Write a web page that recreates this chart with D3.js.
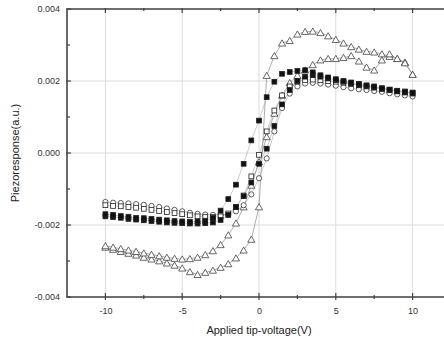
<!DOCTYPE html>
<html>
<head>
<meta charset="utf-8">
<script src="https://cdn.jsdelivr.net/npm/d3@7/dist/d3.min.js"></script>
<style>
  body { margin: 0; background: #fff; }
  svg { display: block; font-family: "Liberation Sans", Arial, sans-serif; }
</style>
</head>
<body>
<div id="chart"></div>
<script>
// applied tip voltage (V), shared by every branch
const volts = [-10, -9.5, -9, -8.5, -8, -7.5, -7, -6.5, -6, -5.5, -5, -4.5, -4, -3.5, -3, -2.5, -2, -1.5, -1, -0.5,
  0, 0.5, 1, 1.5, 2, 2.5, 3, 3.5, 4, 4.5, 5, 5.5, 6, 6.5, 7, 7.5, 8, 8.5, 9, 9.5, 10];

// filled squares, two sweep branches
const filledFwd = [-0.00176, -0.00178, -0.00180, -0.00183, -0.00185, -0.00187, -0.00189, -0.00191, -0.00193, -0.00194,
  -0.00195, -0.00196, -0.00196, -0.00195, -0.00193, -0.00186, -0.00172, -0.00150, -0.00120, -0.00082,
  -0.00030, 0.00012, 0.00075, 0.00135, 0.00175, 0.00200, 0.00212, 0.00216, 0.00212, 0.00207,
  0.00202, 0.00198, 0.00193, 0.00189, 0.00186, 0.00182, 0.00178, 0.00175, 0.00171, 0.00168, 0.00165];
const filledRev = [-0.00170, -0.00172, -0.00175, -0.00177, -0.00180, -0.00181, -0.00183, -0.00185, -0.00187, -0.00189,
  -0.00190, -0.00191, -0.00190, -0.00188, -0.00180, -0.00160, -0.00128, -0.00088, -0.00030, 0.00035,
  0.00090, 0.00155, 0.00198, 0.00220, 0.00225, 0.00228, 0.00230, 0.00224, 0.00216, 0.00210,
  0.00205, 0.00200, 0.00196, 0.00192, 0.00188, 0.00185, 0.00180, 0.00176, 0.00172, 0.00170, 0.00167];

// open squares
const openSq = [-0.00145, -0.00147, -0.00148, -0.00150, -0.00152, -0.00155, -0.00158, -0.00161, -0.00164, -0.00167,
  -0.00170, -0.00173, -0.00176, -0.00178, -0.00178, -0.00176, -0.00168, -0.00150, -0.00118, -0.00065,
  -0.00005, 0.00060, 0.00118, 0.00160, 0.00185, 0.00198, 0.00203, 0.00204, 0.00202, 0.00200,
  0.00198, 0.00195, 0.00192, 0.00188, 0.00185, 0.00182, 0.00179, 0.00176, 0.00173, 0.00171, 0.00168];

// open circles
const openCirc = [-0.00136, -0.00138, -0.00139, -0.00140, -0.00142, -0.00144, -0.00147, -0.00150, -0.00154, -0.00158,
  -0.00162, -0.00166, -0.00169, -0.00171, -0.00172, -0.00172, -0.00170, -0.00162, -0.00145, -0.00115,
  -0.00070, -0.00015, 0.00060, 0.00125, 0.00165, 0.00185, 0.00193, 0.00195, 0.00193, 0.00190,
  0.00187, 0.00183, 0.00180, 0.00177, 0.00175, 0.00172, 0.00170, 0.00166, 0.00163, 0.00160, 0.00157];

// open triangles, two sweep branches
const triA = [-0.00262, -0.00268, -0.00274, -0.00279, -0.00284, -0.00290, -0.00295, -0.00300, -0.00306, -0.00312,
  -0.00320, -0.00330, -0.00338, -0.00332, -0.00326, -0.00318, -0.00308, -0.00292, -0.00270, -0.00240,
  -0.00150, 0.00215, 0.00270, 0.00305, 0.00312, 0.00330, 0.00337, 0.00338, 0.00334, 0.00325,
  0.00315, 0.00305, 0.00295, 0.00288, 0.00282, 0.00280, 0.00275, 0.00268, 0.00262, 0.00252, 0.00218];
const triB = [-0.00258, -0.00262, -0.00266, -0.00270, -0.00274, -0.00278, -0.00282, -0.00286, -0.00290, -0.00293,
  -0.00295, -0.00294, -0.00290, -0.00283, -0.00272, -0.00255, -0.00228, -0.00195, -0.00150, -0.00090,
  -0.00025, 0.00045, 0.00110, 0.00160, 0.00195, 0.00215, 0.00230, 0.00245, 0.00258, 0.00262,
  0.00262, 0.00265, 0.00270, 0.00255, 0.00238, 0.00230, 0.00258, 0.00275, 0.00262, 0.00250, 0.00218];

const xTicks = [-10, -5, 0, 5, 10];
const xMinor = [-7.5, -2.5, 2.5, 7.5];
const yTicks = [-0.004, -0.002, 0, 0.002, 0.004];
const yMinor = [-0.003, -0.001, 0.001, 0.003];

const width = 444;
const height = 342;
const margin = {top: 9, left: 67, bottom: 45};
const plotRight = 451; // frame runs past the window edge

const x = d3.scaleLinear().domain([-12.5, 12.5]).range([margin.left, plotRight]);
const y = d3.scaleLinear().domain([-0.004, 0.004]).range([height - margin.bottom, margin.top]);

const svg = d3.select('#chart').append('svg')
  .attr('width', width)
  .attr('height', height);

// grid
const grid = svg.append('g').attr('stroke', '#dcdcdc').attr('stroke-width', 1);
grid.selectAll('.gx').data(xTicks).enter().append('line')
  .attr('x1', d => x(d)).attr('x2', d => x(d))
  .attr('y1', y(0.004)).attr('y2', y(-0.004));
grid.selectAll('.gy').data(yTicks).enter().append('line')
  .attr('x1', margin.left).attr('x2', plotRight)
  .attr('y1', d => y(d)).attr('y2', d => y(d));

// series
const line = d3.line().x((d, i) => x(volts[i])).y(d => y(d));
const series = [
  {vals: triA, shape: 'tri'},
  {vals: triB, shape: 'tri'},
  {vals: openCirc, shape: 'circ'},
  {vals: openSq, shape: 'osq'},
  {vals: filledFwd, shape: 'fsq'},
  {vals: filledRev, shape: 'fsq'}
];

series.forEach(function(s) {
  svg.append('path')
    .attr('d', line(s.vals))
    .attr('fill', 'none')
    .attr('stroke', s.shape === 'tri' ? '#777' : '#999')
    .attr('stroke-width', s.shape === 'tri' ? 0.6 : 0.5);
});

const triSym = d3.symbol().type(d3.symbolTriangle).size(22);
series.forEach(function(s) {
  const g = svg.append('g');
  const pts = g.selectAll('.m').data(s.vals).enter();
  if (s.shape === 'tri') {
    pts.append('path')
      .attr('d', triSym)
      .attr('transform', (d, i) => 'translate(' + x(volts[i]) + ',' + (y(d) + 0.8) + ')')
      .attr('fill', '#fff').attr('stroke', '#444').attr('stroke-width', 0.8);
  } else if (s.shape === 'circ') {
    pts.append('circle')
      .attr('cx', (d, i) => x(volts[i])).attr('cy', d => y(d)).attr('r', 2.6)
      .attr('fill', '#fff').attr('stroke', '#333').attr('stroke-width', 0.8);
  } else {
    pts.append('rect')
      .attr('x', (d, i) => x(volts[i]) - 2.4).attr('y', d => y(d) - 2.4)
      .attr('width', 4.8).attr('height', 4.8)
      .attr('fill', s.shape === 'fsq' ? '#111' : '#fff')
      .attr('stroke', '#222').attr('stroke-width', 0.8);
  }
});

// frame
const frame = svg.append('g').attr('stroke', '#444').attr('stroke-width', 1.6);
frame.append('line').attr('x1', margin.left).attr('x2', margin.left).attr('y1', y(0.004)).attr('y2', y(-0.004));
frame.append('line').attr('x1', margin.left).attr('x2', plotRight).attr('y1', y(0.004)).attr('y2', y(0.004));
frame.append('line').attr('x1', margin.left).attr('x2', plotRight).attr('y1', y(-0.004)).attr('y2', y(-0.004));

// axes (plain hyphen minus, as in the original figure)
const hyphen = s => s.replace('\u2212', '-');
const axisBottom = d3.axisBottom(x).tickValues(xTicks).tickSize(0).tickPadding(11)
  .tickFormat(d => hyphen(d3.format('d')(d)));
const axisLeft = d3.axisLeft(y).tickValues(yTicks).tickSize(0).tickPadding(7)
  .tickFormat(d => d === 0 ? '0.000' : hyphen(d3.format('.3f')(d)));

const bx = svg.append('g').attr('transform', 'translate(0,' + y(-0.004) + ')').call(axisBottom);
const ly = svg.append('g').attr('transform', 'translate(' + margin.left + ',0)').call(axisLeft);
[bx, ly].forEach(function(a) {
  a.select('.domain').remove();
  a.selectAll('text').attr('font-size', 9).attr('fill', '#333').attr('font-family', '"Liberation Sans", Arial, sans-serif');
});

// tick marks
const tk = svg.append('g').attr('stroke', '#444').attr('stroke-width', 1.2);
tk.selectAll('.tb').data(xTicks).enter().append('line')
  .attr('x1', d => x(d)).attr('x2', d => x(d))
  .attr('y1', y(-0.004) - 4).attr('y2', y(-0.004) + 3);
tk.selectAll('.tbm').data(xMinor).enter().append('line')
  .attr('x1', d => x(d)).attr('x2', d => x(d))
  .attr('y1', y(-0.004) - 2).attr('y2', y(-0.004) + 2);
tk.selectAll('.tt').data(xTicks).enter().append('line')
  .attr('x1', d => x(d)).attr('x2', d => x(d))
  .attr('y1', y(0.004) - 1).attr('y2', y(0.004) + 4);
tk.selectAll('.ttm').data(xMinor).enter().append('line')
  .attr('x1', d => x(d)).attr('x2', d => x(d))
  .attr('y1', y(0.004) - 1).attr('y2', y(0.004) + 2);
tk.selectAll('.tl').data(yTicks).enter().append('line')
  .attr('x1', margin.left - 1).attr('x2', margin.left + 4)
  .attr('y1', d => y(d)).attr('y2', d => y(d));
tk.selectAll('.tlm').data(yMinor).enter().append('line')
  .attr('x1', margin.left).attr('x2', margin.left + 3)
  .attr('y1', d => y(d)).attr('y2', d => y(d));

// axis titles
svg.append('text')
  .attr('x', x(0)).attr('y', 334)
  .attr('text-anchor', 'middle')
  .attr('font-size', 11).attr('fill', '#222')
  .text('Applied tip-voltage(V)');
svg.append('text')
  .attr('transform', 'translate(19,' + y(0) + ') rotate(-90)')
  .attr('text-anchor', 'middle')
  .attr('font-size', 11).attr('fill', '#222')
  .text('Piezoresponse(a.u.)');
</script>
</body>
</html>
